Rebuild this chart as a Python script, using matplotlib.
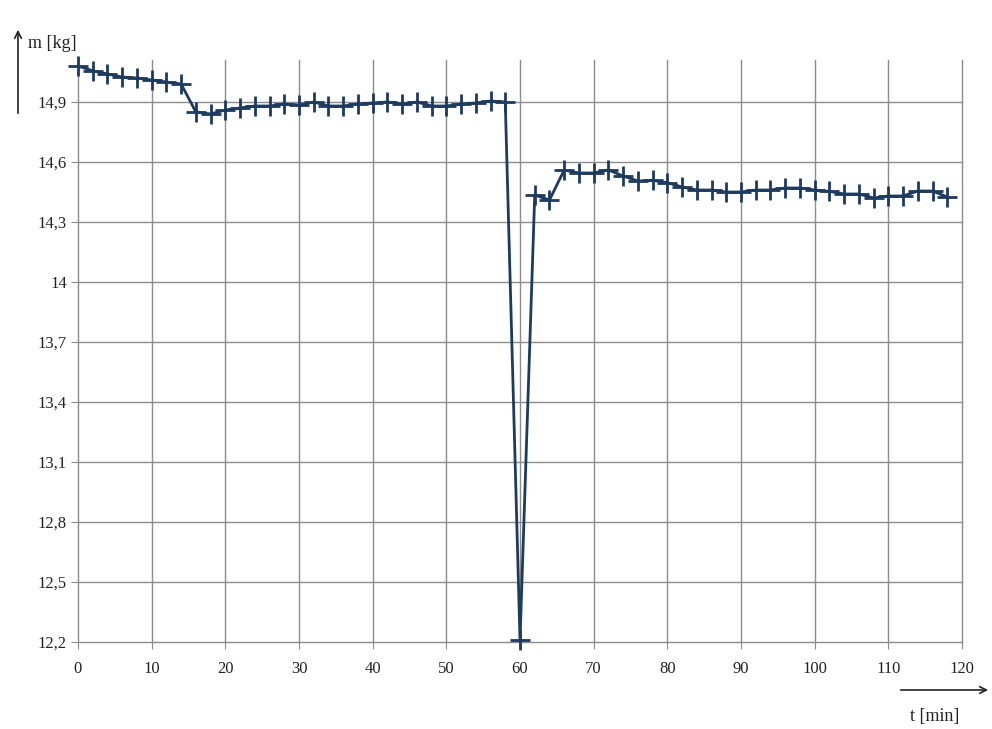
import matplotlib
matplotlib.use("Agg")
import matplotlib.pyplot as plt
from matplotlib.ticker import FuncFormatter

t_min = list(range(0, 120, 2))
mass_kg = [15.08, 15.056, 15.04, 15.025, 15.02, 15.01, 15.0, 14.99,
           14.85, 14.84, 14.86, 14.87, 14.88, 14.88, 14.89, 14.885, 14.9,
           14.88, 14.88, 14.89, 14.895, 14.9, 14.89, 14.9, 14.88, 14.88,
           14.89, 14.895, 14.905, 14.9,
           12.21,
           14.435, 14.41, 14.56, 14.545, 14.545, 14.56, 14.53, 14.505,
           14.508, 14.497, 14.475, 14.46, 14.46, 14.45, 14.45, 14.46, 14.46,
           14.47, 14.47, 14.46, 14.453, 14.44, 14.44, 14.42, 14.43, 14.43,
           14.455, 14.455, 14.425]
x_ticks = list(range(0, 121, 10))
y_ticks = [12.2, 12.5, 12.8, 13.1, 13.4, 13.7, 14.0, 14.3, 14.6, 14.9]

plt.rcParams['font.family'] = ['Liberation Serif', 'DejaVu Serif']

W, H = 992, 729
fig = plt.figure(figsize=(W / 100, H / 100), dpi=100)
ax = fig.add_axes([78 / W, 1 - 642 / H, 884 / W, (642 - 60) / H])

ax.plot(t_min, mass_kg, color='#1d3a5f', lw=2.0, marker='+', ms=15, mew=2.0,
        zorder=3, clip_on=False)

ax.set_xlim(0, 120)
ax.set_ylim(12.2, 15.11)
ax.set_xticks(x_ticks)
ax.set_yticks(y_ticks)
ax.yaxis.set_major_formatter(FuncFormatter(lambda v, p: f"{round(v, 1):g}".replace('.', ',')))
ax.grid(True, color='#8c8c8c', lw=1.0)
ax.set_axisbelow(True)
for gl in ax.get_xgridlines() + ax.get_ygridlines():
    gl.set_clip_on(False)
for s in ax.spines.values():
    s.set_visible(False)
ax.tick_params(axis='both', length=5, color='#8c8c8c', labelsize=12,
               labelcolor='#222222')
ax.tick_params(axis='x', pad=9)
ax.tick_params(axis='y', pad=3)

# axis arrows and labels
fig.add_artist(matplotlib.patches.FancyArrowPatch(
    (18 / W, 1 - 116 / H), (18 / W, 1 - 27 / H), transform=fig.transFigure,
    arrowstyle='->', mutation_scale=12, color='#222222', lw=1.2))
fig.text(28 / W, 1 - 44 / H, 'm [kg]', fontsize=13, color='#222222',
         va='center', ha='left')
fig.add_artist(matplotlib.patches.FancyArrowPatch(
    (898 / W, 1 - 690 / H), (991 / W, 1 - 690 / H), transform=fig.transFigure,
    arrowstyle='->', mutation_scale=12, color='#222222', lw=1.2))
fig.text(935 / W, 1 - 717 / H, 't [min]', fontsize=13, color='#222222',
         va='center', ha='center')

fig.savefig('out.png', dpi=100)
